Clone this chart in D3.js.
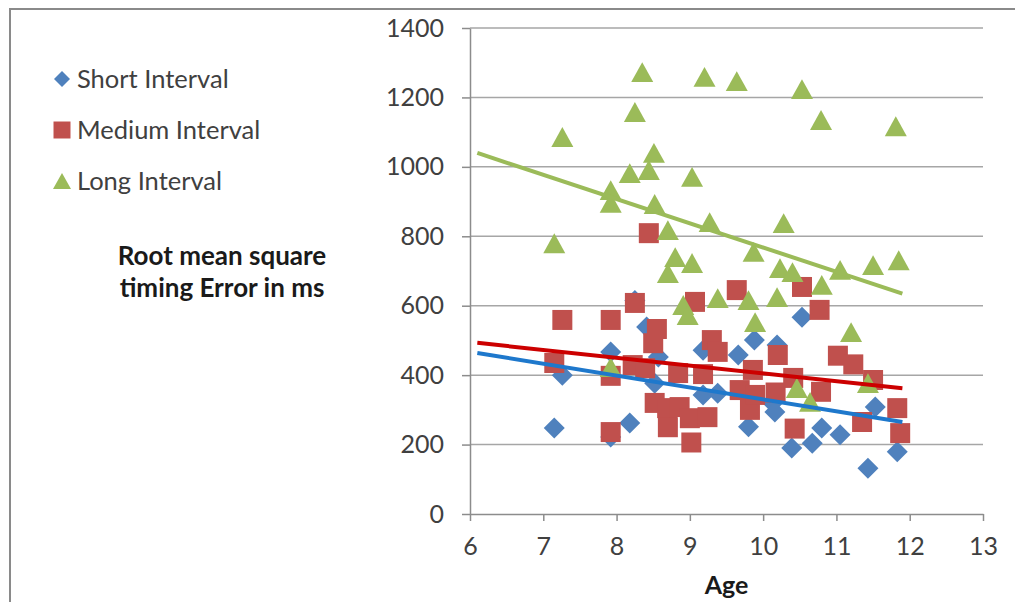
<!DOCTYPE html>
<html>
<head>
<meta charset="utf-8">
<script src="https://cdn.jsdelivr.net/npm/d3@7"></script>
<style>
  html, body { margin: 0; padding: 0; background: #ffffff; }
  svg { display: block; }
  text { font-family: Lato, "Open Sans", sans-serif; }
</style>
</head>
<body>
<svg id="chart" width="1015" height="602"></svg>
<script>
// ---------- data ----------
const seriesNames = ["Short Interval", "Medium Interval", "Long Interval"];

const shortAge = [7.15, 7.26, 7.92, 7.92, 8.18, 8.25, 8.41, 8.52, 8.57, 9.18, 9.18, 9.38, 9.66, 9.80, 9.88, 10.13, 10.16, 10.19, 10.39, 10.53, 10.67, 10.80, 11.05, 11.43, 11.53, 11.83];
const shortVal = [248, 400, 467, 222, 262, 615, 539, 377, 452, 472, 343, 348, 458, 251, 501, 320, 294, 487, 190, 567, 204, 248, 228, 132, 308, 179];

const mediumAge = [7.26, 7.15, 7.92, 7.92, 7.92, 8.22, 8.25, 8.39, 8.44, 8.50, 8.55, 8.52, 8.69, 8.70, 8.84, 8.86, 9.00, 9.02, 9.07, 9.18, 9.24, 9.30, 9.38, 9.64, 9.68, 9.82, 9.86, 9.89, 10.17, 10.20, 10.41, 10.43, 10.53, 10.77, 10.79, 11.02, 11.23, 11.35, 11.50, 11.83, 11.87];
const mediumVal = [559, 435, 559, 398, 236, 429, 608, 420, 809, 492, 533, 320, 305, 250, 406, 308, 276, 206, 611, 403, 279, 501, 467, 645, 357, 300, 415, 343, 350, 458, 392, 246, 654, 588, 352, 456, 431, 265, 386, 305, 233];

const longAge = [7.26, 7.15, 7.92, 7.92, 7.92, 8.18, 8.25, 8.35, 8.44, 8.51, 8.52, 8.70, 8.80, 8.70, 8.91, 8.97, 9.03, 9.03, 9.20, 9.27, 9.38, 9.64, 9.80, 9.87, 9.89, 10.19, 10.23, 10.28, 10.40, 10.46, 10.53, 10.64, 10.79, 10.80, 11.05, 11.20, 11.43, 11.50, 11.81, 11.85];
const longVal = [1086, 780, 933, 896, 423, 982, 1158, 1273, 991, 1040, 893, 818, 740, 694, 602, 573, 971, 723, 1259, 841, 622, 1247, 616, 755, 553, 625, 708, 838, 697, 363, 1224, 323, 1135, 660, 703, 524, 377, 717, 1117, 731];

// linear trend lines, endpoints
const trendAge = [6.1, 11.9];
const shortTrend = [464, 265];
const mediumTrend = [493, 362];
const longTrend = [1040, 635];

const xTicks = [6, 7, 8, 9, 10, 11, 12, 13];
const yTicks = [0, 200, 400, 600, 800, 1000, 1200, 1400];
const yTitleLines = ["Root mean square", "timing Error in ms"];
const xTitle = "Age";

// ---------- drawing ----------
const svg = d3.select("#chart");
const colors = { short: "#4F81BD", medium: "#C0504D", long: "#9BBB59" };
const trendColors = { short: "#1E78CC", medium: "#CC0000", long: "#9BBB59" };

const x = d3.scaleLinear().domain([6, 13]).range([470, 983]);
const y = d3.scaleLinear().domain([0, 1400]).range([514, 28]);

// outer chart border
svg.append("rect")
  .attr("x", 10).attr("y", 9).attr("width", 1030).attr("height", 640)
  .attr("fill", "#ffffff").attr("stroke", "#8a8a8a").attr("stroke-width", 2);

// gridlines
svg.append("g").selectAll("line")
  .data(yTicks.filter(d => d > 0))
  .join("line")
  .attr("x1", x(6)).attr("x2", x(13))
  .attr("y1", d => y(d)).attr("y2", d => y(d))
  .attr("stroke", "#a6a6a6").attr("stroke-width", 1.5);

// axes
const yAxis = svg.append("g")
  .attr("transform", `translate(${x(6)},0)`)
  .call(d3.axisLeft(y).tickValues(yTicks).tickFormat(d3.format("d"))
    .tickSize(8).tickPadding(18).tickSizeOuter(0));
const xAxis = svg.append("g")
  .attr("transform", `translate(0,${y(0)})`)
  .call(d3.axisBottom(x).tickValues(xTicks).tickFormat(d3.format("d"))
    .tickSize(7).tickPadding(16).tickSizeOuter(0));
[yAxis, xAxis].forEach(g => {
  g.select(".domain").attr("stroke", "#8c8c8c").attr("stroke-width", 1.5);
  g.selectAll(".tick line").attr("stroke", "#8c8c8c").attr("stroke-width", 1.5);
  g.selectAll(".tick text").attr("fill", "#404040")
    .style("font-family", "Lato, sans-serif").style("font-size", "25px");
});

// marker shapes
function diamondPath(r) { return `M0,${-r}L${r},0L0,${r}L${-r},0Z`; }
function squarePath(h) { return `M${-h},${-h}H${h}V${h}H${-h}Z`; }
function trianglePath(w) { const h = w * 0.9; return `M0,${-h/2}L${w/2},${h/2}L${-w/2},${h/2}Z`; }

const plot = svg.append("g");
plot.append("g").selectAll("path")
  .data(d3.zip(shortAge, shortVal)).join("path")
  .attr("d", diamondPath(10.5))
  .attr("transform", d => `translate(${x(d[0])},${y(d[1])})`)
  .attr("fill", colors.short);
plot.append("g").selectAll("path")
  .data(d3.zip(mediumAge, mediumVal)).join("path")
  .attr("d", squarePath(10))
  .attr("transform", d => `translate(${x(d[0])},${y(d[1])})`)
  .attr("fill", colors.medium);
plot.append("g").selectAll("path")
  .data(d3.zip(longAge, longVal)).join("path")
  .attr("d", trianglePath(22))
  .attr("transform", d => `translate(${x(d[0])},${y(d[1])})`)
  .attr("fill", colors.long);

// trend lines
const line = d3.line().x(d => x(d[0])).y(d => y(d[1]));
[[longTrend, trendColors.long], [mediumTrend, trendColors.medium], [shortTrend, trendColors.short]]
  .forEach(([vals, c]) => {
    svg.append("path").datum(d3.zip(trendAge, vals))
      .attr("d", line).attr("fill", "none")
      .attr("stroke", c).attr("stroke-width", 4);
  });

// legend
const legend = svg.append("g");
const legendY = [79, 130, 181];
const legendShapes = [diamondPath(8), squarePath(8.5), trianglePath(18)];
const legendColors = [colors.short, colors.medium, colors.long];
seriesNames.forEach((name, i) => {
  legend.append("path").attr("d", legendShapes[i])
    .attr("transform", `translate(62,${legendY[i]})`).attr("fill", legendColors[i]);
  legend.append("text").attr("x", 77).attr("y", legendY[i])
    .attr("dy", "0.35em").attr("fill", "#404040")
    .style("font-size", "25.5px").text(name);
});

// axis titles
svg.append("text").attr("x", 222).attr("text-anchor", "middle")
  .style("font-weight", "bold").style("font-size", "26px").attr("fill", "#1a1a1a")
  .selectAll("tspan").data(yTitleLines).join("tspan")
  .attr("x", 222).attr("y", (d, i) => 256 + i * 32).attr("dy", "0.35em").text(d => d);

svg.append("text").attr("x", x(9.5)).attr("y", 585).attr("dy", "0.35em")
  .attr("text-anchor", "middle").style("font-weight", "bold").style("font-size", "25px")
  .attr("fill", "#1a1a1a").text(xTitle);
</script>
</body>
</html>
